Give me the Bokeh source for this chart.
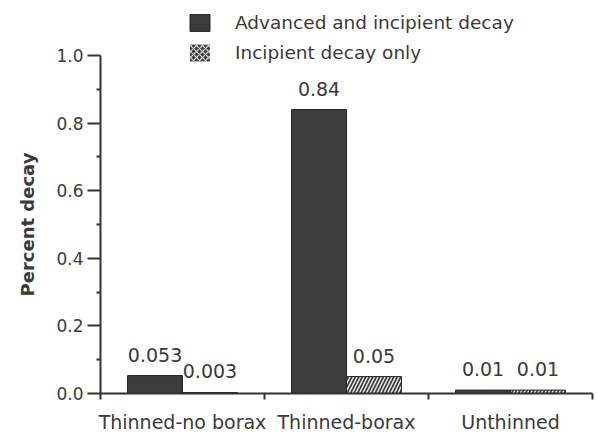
from bokeh.plotting import figure
from bokeh.models import Range1d, FixedTicker, Legend, LegendItem, ColumnDataSource, PrintfTickFormatter, Title
from bokeh.embed import file_html
from bokeh.resources import INLINE
from bokeh.core.properties import value

# ---- data ----
categories = ["Thinned-no borax", "Thinned-borax", "Unthinned"]
advanced = [0.053, 0.84, 0.01]
incipient = [0.003, 0.05, 0.01]
advanced_labels = ["0.053", "0.84", "0.01"]
incipient_labels = ["0.003", "0.05", "0.01"]
series_names = ["Advanced and incipient decay", "Incipient decay only"]
y_title = "Percent decay"
y_ticks = [0.0, 0.2, 0.4, 0.6, 0.8, 1.0]
y_minor = [0.1, 0.3, 0.5, 0.7, 0.9]
y_axis_max = 1.0

FONT = "DejaVu Sans"
TXT = "#3a3a3a"
AX = "#333333"
BAR = "#3c3c3c"
BAR_W = 0.335

PX_PER_UNIT = 338          # pixel height of the 0..1 axis
FRAME_H = 381              # frame extends above 1.0 to hold the legend
centers = [i + 0.5 for i in range(len(categories))]
x_adv = [c - BAR_W / 2 for c in centers]
x_inc = [c + BAR_W / 2 for c in centers]
boundaries = [float(i) for i in range(len(categories) + 1)]

src_adv = ColumnDataSource(dict(x=x_adv, top=advanced, lab=advanced_labels))
src_inc = ColumnDataSource(dict(x=x_inc, top=incipient, lab=incipient_labels))

p = figure(frame_width=492, frame_height=FRAME_H,
           x_range=Range1d(0, len(categories)), y_range=Range1d(0, FRAME_H / PX_PER_UNIT),
           output_backend="svg", toolbar_location=None,
           min_border_left=100, min_border_top=12, min_border_right=2, min_border_bottom=38,
           background_fill_color="white", border_fill_color="white")
p.outline_line_color = None
p.xgrid.visible = False
p.ygrid.visible = False

r_adv = p.vbar(x="x", top="top", width=BAR_W, source=src_adv,
               fill_color=BAR, line_color="#222222", line_width=1)
r_inc = p.vbar(x="x", top="top", width=BAR_W, source=src_inc,
               fill_color=BAR, line_color="#222222", line_width=1,
               hatch_pattern="right_diagonal_line", hatch_color="#e8e8e8",
               hatch_scale=7, hatch_weight=1.5)
# legend-only renderer (zero width) for the checkered swatch
r_inc_leg = p.vbar(x="x", top="top", width=0, source=src_inc,
                   fill_color=BAR, line_color=None,
                   hatch_pattern="diagonal_cross", hatch_color="#dddddd",
                   hatch_scale=6, hatch_weight=1.2)

for src in (src_adv, src_inc):
    p.text(x="x", y="top", text="lab", source=src, text_align="center",
           text_baseline="alphabetic", y_offset=-21,
           text_font=value(FONT), text_font_size="19px", text_color=TXT)

# x axis: labels at category centres, ticks at category boundaries
p.xaxis.ticker = FixedTicker(ticks=centers, minor_ticks=boundaries)
p.xaxis.major_label_overrides = {c: lab for c, lab in zip(centers, categories)}
p.xaxis.major_tick_out = 0
p.xaxis.major_tick_in = 0
p.xaxis.minor_tick_out = 6
p.xaxis.minor_tick_in = 0
p.xaxis.major_label_standoff = 11
p.xaxis.major_label_text_font = FONT
p.xaxis.major_label_text_font_size = "19px"
p.xaxis.major_label_text_color = TXT

# y axis (line drawn only from 0 to 1.0)
p.yaxis.bounds = (0, y_axis_max)
p.yaxis.ticker = FixedTicker(ticks=y_ticks, minor_ticks=y_minor)
p.yaxis.formatter = PrintfTickFormatter(format="%.1f")
p.yaxis.major_tick_out = 13
p.yaxis.major_tick_in = 0
p.yaxis.minor_tick_out = 4
p.yaxis.minor_tick_in = 0
p.yaxis.major_label_standoff = 4
p.yaxis.major_label_text_font = FONT
p.yaxis.major_label_text_font_size = "17px"
p.yaxis.major_label_text_color = TXT

for ax in (p.xaxis, p.yaxis):
    ax.axis_line_color = AX
    ax.axis_line_width = 2
    ax.major_tick_line_color = AX
    ax.major_tick_line_width = 2
    ax.minor_tick_line_color = AX
    ax.minor_tick_line_width = 2

# y-axis title, placed from the bottom so it is centred on the 0..1 axis
ytitle = Title(text=y_title, align="left", vertical_align="top", offset=97, standoff=28,
               text_font=FONT, text_font_style="bold", text_font_size="18px",
               text_color=TXT)
p.add_layout(ytitle, "left")

legend = Legend(items=[LegendItem(label=series_names[0], renderers=[r_adv]),
                       LegendItem(label=series_names[1], renderers=[r_inc_leg])],
                location=(87, 330), orientation="vertical",
                glyph_width=25, glyph_height=21, spacing=9, padding=0, margin=0,
                label_standoff=23, label_text_font=FONT, label_text_font_size="18.5px",
                label_text_color=TXT, label_height=21,
                border_line_color=None, background_fill_alpha=0)
p.add_layout(legend, "center")

open("out.html", "w").write(file_html(p, INLINE))
